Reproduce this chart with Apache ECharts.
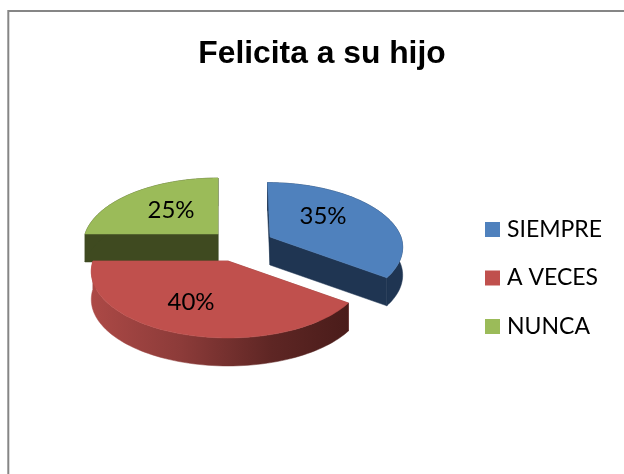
<!DOCTYPE html>
<html><head><meta charset="utf-8">
<style>html,body{margin:0;padding:0;background:#fff}#c{width:624px;height:474px}</style>
<script src="https://cdn.jsdelivr.net/npm/echarts@6/dist/echarts.min.js"></script>
</head><body><div id="c"></div>
<script>
const title = 'Felicita a su hijo';
const categories = ['SIEMPRE', 'A VECES', 'NUNCA'];
const values = [35, 40, 25];
const colors = ['#4F81BD', '#C0504D', '#9BBB59'];
const wallColors = ['#1F3552', '#8A3A38', '#3F4A20'];

// Drawing layout of the tilted, exploded pie
const K = 0.158, DEPTH = 28;
const layout = [
  { cx: 270, cy: 237, rx: 131, tilt: 63, lean: -2.5, label: [53, -21], z: 2 },
  { cx: 228, cy: 261, rx: 135, tilt: 64.8, lean: 0, label: [-37, 41], z: 3 },
  { cx: 218, cy: 234, rx: 133, tilt: 64.8, lean: 0, label: [-47, -24], z: 1 }
];
const total = values.reduce((a, b) => a + b, 0);
function startAngle(i) {
  let s = 0;
  for (let j = 0; j < i; j++) s += values[j];
  return s / total * Math.PI * 2;
}
function project(l, t, dz) {
  const c = Math.cos(t), sn = Math.sin(t), s = 1 / (1 + K * c);
  return [l.cx + l.rx * sn * s + l.lean * Math.max(c, 0), l.cy - l.tilt * c * s + (dz || 0)];
}
function arc(l, a, b, dz) {
  const n = 80, pts = [];
  for (let i = 0; i <= n; i++) pts.push(project(l, a + (b - a) * i / n, dz));
  return pts;
}
function renderSlice(i) {
  return function (params, api) {
    const l = layout[i];
    const a = startAngle(i);
    const b = a + api.value(0) / total * Math.PI * 2;
    const apex = [l.cx, l.cy];
    const apexD = [l.cx, l.cy + DEPTH];
    const top = arc(l, a, b, 0);
    const low = arc(l, a, b, DEPTH);
    const kids = [];
    const poly = (points, fill, stroke) => ({
      type: 'polygon', shape: { points },
      style: { fill, stroke: stroke || fill, lineWidth: 0.5 }
    });
    const pa = top[0], pb = top[top.length - 1];
    const D = p => [p[0], p[1] + DEPTH];
    let wallFill = wallColors[i];
    if (i === 1) {
      wallFill = {
        type: 'linear', x: 0, y: 0, x2: 1, y2: 0,
        colorStops: [
          { offset: 0, color: '#AC4946' },
          { offset: 0.35, color: '#8C3B39' },
          { offset: 0.7, color: '#5E2624' },
          { offset: 1, color: '#4A1C1A' }
        ]
      };
    }
    kids.push(poly([apex, pa, D(pa), apexD], wallColors[i]));
    kids.push(poly([apex, pb, D(pb), apexD], wallColors[i]));
    kids.push(poly(top.concat(low.slice().reverse()), wallFill));
    kids.push(poly([apex].concat(top), colors[i]));
    kids.push({
      type: 'text',
      style: {
        text: values[i] + '%',
        x: l.cx + l.label[0], y: l.cy + l.label[1],
        align: 'center', verticalAlign: 'middle',
        fill: '#000', font: '24px Lato'
      }
    });
    return { type: 'group', children: kids };
  };
}
const chart = echarts.init(document.getElementById('c'), null, { renderer: 'canvas' });
chart.setOption({
  animation: false,
  backgroundColor: '#fff',
  title: {
    text: title, left: 317, top: 33, textAlign: 'center',
    textStyle: { fontFamily: 'Liberation Sans', fontWeight: 'bold', fontSize: 31.8, color: '#000' }
  },
  legend: {
    data: categories, orient: 'vertical', left: 485, top: 218, padding: 0,
    icon: 'rect', itemWidth: 15, itemHeight: 15, itemGap: 25.5,
    textStyle: { fontFamily: 'Lato', fontSize: 23, color: '#000', padding: [0, 0, 0, 2] }
  },
  graphic: [
    { type: 'line', shape: { x1: 8.3, y1: 11, x2: 624, y2: 11 }, style: { stroke: '#868686', lineWidth: 2 }, silent: true },
    { type: 'line', shape: { x1: 8.3, y1: 10, x2: 8.3, y2: 474 }, style: { stroke: '#868686', lineWidth: 2 }, silent: true }
  ],
  series: categories.map((name, i) => ({
    type: 'custom', name, coordinateSystem: 'none',
    z: layout[i].z,
    itemStyle: { color: colors[i] },
    data: [[values[i]]],
    renderItem: renderSlice(i)
  }))
});
</script></body></html>
